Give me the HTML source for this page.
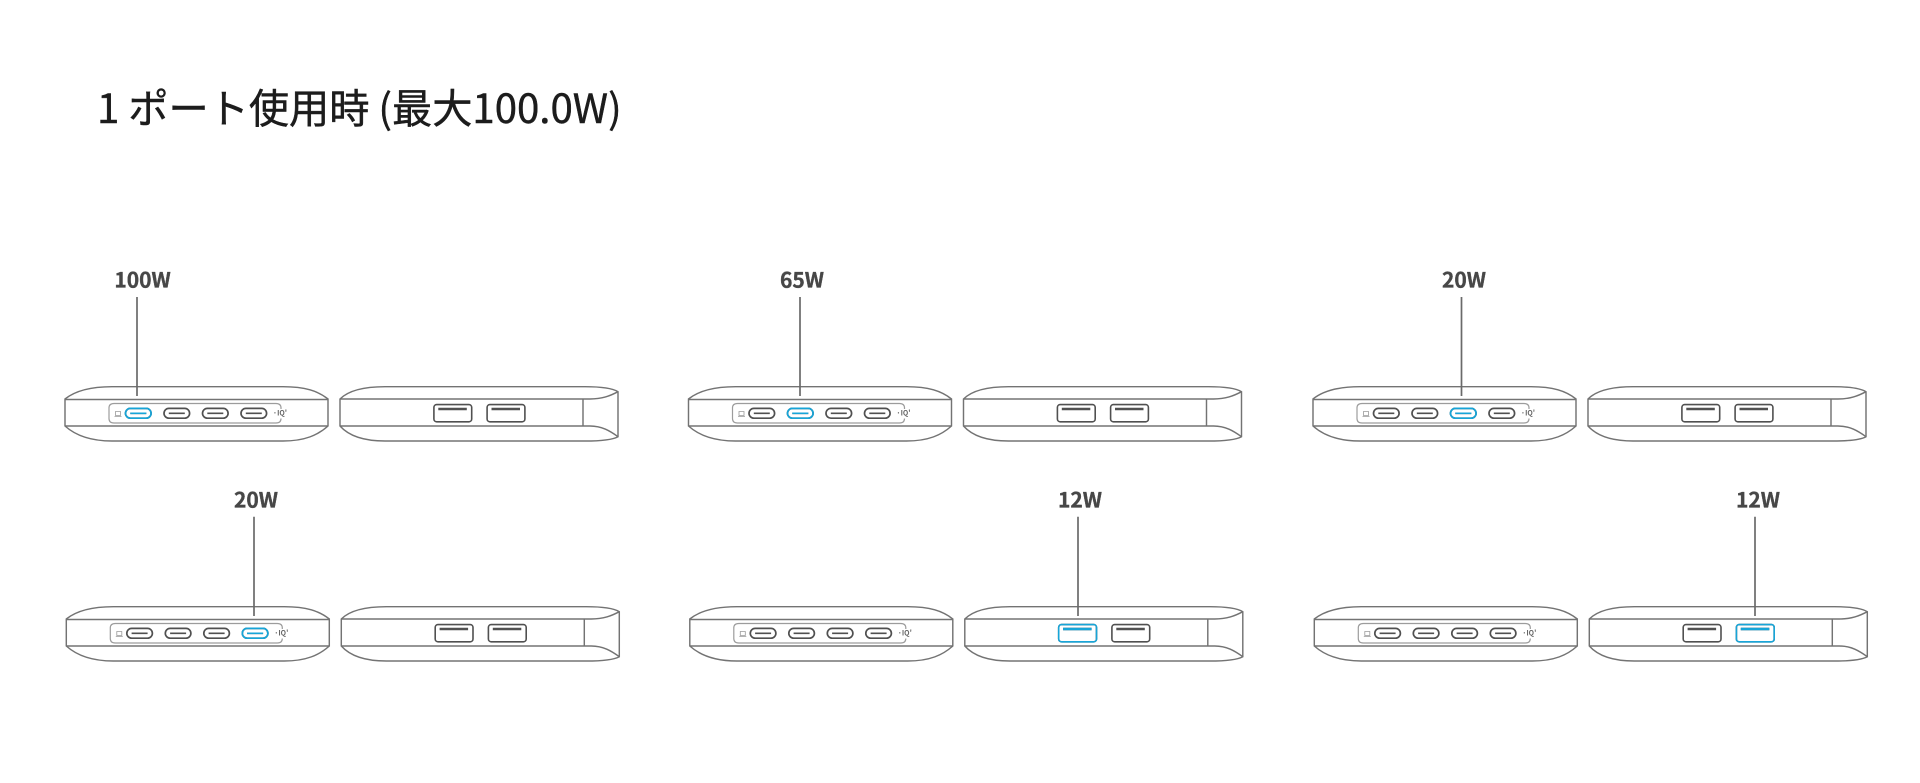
<!DOCTYPE html>
<html lang="ja"><head><meta charset="utf-8"><title>1 ポート使用時</title>
<style>
html,body{margin:0;padding:0;background:#fff;width:1920px;height:783px;overflow:hidden}
svg{display:block;position:absolute;left:0;top:0}
#art{filter:blur(.3px)}
text{font-family:"Noto Sans CJK JP","Liberation Sans",sans-serif}
.lb{font-size:21px;font-weight:700;fill:#474747;stroke:#474747;stroke-width:.35;text-anchor:middle;filter:blur(.3px)}
.ld{stroke:#6a6a6a;stroke-width:1.7;fill:none}
</style></head><body>
<svg width="1920" height="783" viewBox="0 0 1920 783" xmlns="http://www.w3.org/2000/svg">
<defs>
<g id="cp" fill="none" stroke="currentColor">
<rect x="0.2" y="0.4" width="25.6" height="9.8" rx="4.9" stroke-width="1.7"/>
<path d="M5 5.3H21" stroke-width="1.7"/>
</g>
<g id="usb" fill="none" stroke="currentColor">
<rect x="0.6" y="0.6" width="37.8" height="17.2" rx="2.8" stroke-width="1.6"/>
<path d="M5 5H33.5" stroke-width="2.6"/>
</g>
<g id="unit" fill="none" stroke="#737373" stroke-width="1.45">
<path d="M65 399C75 391 90 386.7 112 386.7H283C305 386.7 318 391 328 399V426C318 435 305 441 283 441H112C90 441 75 435 65 426Z"/>
<path d="M65 399.5H328M65 426H328"/>
<path d="M281 409V408Q281 403.5 276 403.5H114Q109 403.5 109 408V418.5Q109 423 114 423H276Q281 423 281 418.5" stroke="#9c9c9c" stroke-width="1.2"/>
<path d="M115.5 411.5H120.5V415.5H115.5ZM114.5 416.5H121.5" stroke="#9a9a9a" stroke-width=".8"/>
<use href="#cp" x="125.3" y="408" color="#505050"/>
<use href="#cp" x="163.8" y="408" color="#505050"/>
<use href="#cp" x="202.3" y="408" color="#505050"/>
<use href="#cp" x="240.8" y="408" color="#505050"/>
<text x="280" y="415.5" font-size="7" font-weight="700" fill="#666" stroke="none" text-anchor="middle">·IQ'</text>
<path d="M340 399C348 391 362 386.7 385 386.7H585C600 386.7 612 388 618 391.7V436.7C612 440 600 441 585 441H385C362 441 348 435 340 426Z"/>
<path d="M340 399H590C602 399 610 396 618 391.7M340 426H590C602 426 610 431 618 436.7M583 399V426"/>
<use href="#usb" x="433.3" y="404" color="#505050"/>
<use href="#usb" x="486.5" y="404" color="#505050"/>
</g>
</defs>
<g id="art">
<use href="#unit"/>
<use href="#unit" x="623.5"/>
<use href="#unit" x="1248"/>
<use href="#unit" x="1.3" y="220"/>
<use href="#unit" x="624.8" y="220"/>
<use href="#unit" x="1249.3" y="220"/>
<g color="#17a5d8">
<use href="#cp" x="125.3" y="408"/>
<g transform="translate(623.5 0)"><use href="#cp" x="163.8" y="408"/></g>
<g transform="translate(1248 0)"><use href="#cp" x="202.3" y="408"/></g>
<g transform="translate(1.3 220)"><use href="#cp" x="240.8" y="408"/></g>
<g transform="translate(624.8 220)"><use href="#usb" x="433.3" y="404"/></g>
<g transform="translate(1249.3 220)"><use href="#usb" x="486.5" y="404"/></g>
</g>
<path class="ld" d="M137 297V396M800 297V396M1461.5 297V396M254 516.7V616M1078 516.7V616M1755 516.7V616"/>
</g>
<text class="lb" x="142.6" y="287.5">100W</text>
<text class="lb" x="802" y="287.5">65W</text>
<text class="lb" x="1464" y="287.5">20W</text>
<text class="lb" x="256" y="507.5">20W</text>
<text class="lb" x="1080" y="507.5">12W</text>
<text class="lb" x="1758" y="507.5">12W</text>
<text x="97" y="123" font-size="40.2" fill="#1c1c1c" stroke="#1c1c1c" stroke-width=".45" style="filter:blur(.3px)">1 ポート使用時 (最大100.0W)</text>
</svg>
</body></html>
